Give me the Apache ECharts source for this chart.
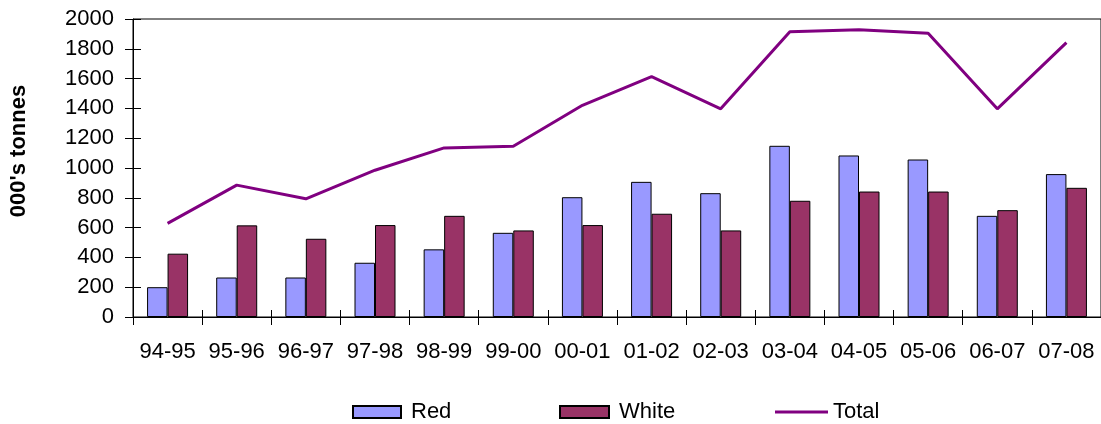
<!DOCTYPE html>
<html><head><meta charset="utf-8">
<script src="https://cdn.jsdelivr.net/npm/echarts@6/dist/echarts.min.js"></script>
<style>html,body{margin:0;padding:0;background:#fff}#c{width:1101px;height:424px}</style>
</head><body><div id="c"></div>
<script>
var categories = ['94-95','95-96','96-97','97-98','98-99','99-00','00-01','01-02','02-03','03-04','04-05','05-06','06-07','07-08'];
var redValues = [200,265,265,364,454,565,804,907,831,1149,1084,1057,679,959];
var whiteValues = [425,615,525,617,679,581,617,693,581,780,842,842,717,867];
var totalValues = [628,885,793,985,1135,1146,1421,1613,1397,1915,1928,1904,1397,1841];
var yTicks = {min:0, max:2000, interval:200};

var font = 'Liberation Sans, Arial, sans-serif';
var fs = 22;
var chart = echarts.init(document.getElementById('c'), null, {renderer:'canvas'});
function leg(name, left, w, h, pad){
  return {
    data:[name], left:left, top:401, itemWidth:w, itemHeight:h, padding:0, icon:'rect',
    textStyle:{fontSize:fs, color:'#000', fontFamily:font, padding:[0,0,0,pad]}
  };
}
chart.setOption({
  animation:false,
  backgroundColor:'#fff',
  textStyle:{fontFamily:font},
  grid:{left:130, right:-2, top:19, bottom:107, show:true, borderColor:'#000', borderWidth:1, backgroundColor:'transparent'},
  legend:[
    leg('Red', 352, 48, 12, 5),
    leg('White', 559, 49, 12, 5),
    Object.assign(leg('Total', 775, 53, 3, 0), {itemStyle:{borderWidth:0}})
  ],
  xAxis:[{
    type:'category', data:categories, boundaryGap:true,
    axisLine:{lineStyle:{color:'#000', width:1}},
    axisTick:{show:true, interval:0, length:8, inside:false, lineStyle:{color:'#000'}},
    axisLabel:{interval:0, fontSize:fs, color:'#000', margin:24, fontFamily:font}
  },{
    type:'category', data:categories, boundaryGap:true, position:'bottom',
    axisLine:{show:false},
    axisTick:{show:true, interval:0, length:7, inside:true, lineStyle:{color:'#000'}},
    axisLabel:{show:false}
  }],
  yAxis:[{
    type:'value', min:yTicks.min, max:yTicks.max, interval:yTicks.interval,
    name:"000's tonnes", nameLocation:'middle', nameGap:103,
    nameTextStyle:{fontSize:fs, fontWeight:'bold', color:'#000', fontFamily:font, padding:[0,0,0,34]},
    axisLine:{show:true, lineStyle:{color:'#000', width:1}},
    axisTick:{show:true, length:8, lineStyle:{color:'#000'}},
    axisLabel:{fontSize:fs, color:'#000', margin:19, fontFamily:font, formatter:function(v){return String(v);}},
    splitLine:{show:false}
  },{
    type:'value', min:yTicks.min, max:yTicks.max, interval:yTicks.interval, position:'left',
    axisLine:{show:false},
    axisTick:{show:true, length:8, inside:true, lineStyle:{color:'#000'}},
    axisLabel:{show:false}, splitLine:{show:false}
  }],
  series:[{
    name:'Red', type:'bar', data:redValues, barWidth:20.5, barGap:'0%',
    itemStyle:{color:'#9999FF', borderColor:'#000', borderWidth:1}
  },{
    name:'White', type:'bar', data:whiteValues, barWidth:20.5, barGap:'0%',
    itemStyle:{color:'#993366', borderColor:'#000', borderWidth:1}
  },{
    name:'Total', type:'line', data:totalValues, symbol:'none',
    lineStyle:{color:'#800080', width:3}, itemStyle:{color:'#800080'}, z:5
  }]
});
</script></body></html>
